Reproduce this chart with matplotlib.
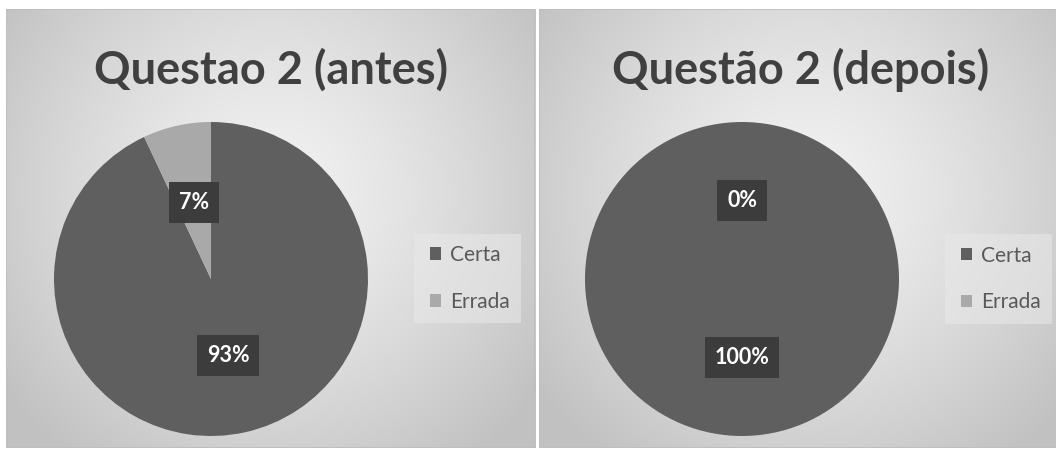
import numpy as np
import matplotlib
matplotlib.use("Agg")
import matplotlib.pyplot as plt
from matplotlib.patches import Rectangle

# ---- data ----
categories = ["Certa", "Errada"]
titles = ["Questao 2 (antes)", "Questão 2 (depois)"]
antes = [93, 7]
depois = [100, 0]
series = [antes, depois]

colors = ["#5f5f5f", "#a9a9a9"]
W, H = 1056, 458
fig = plt.figure(figsize=(W / 100, H / 100), dpi=100)
fig.patch.set_facecolor("white")

FONT = "Lato"

def px_axes(x0, y0, x1, y1, z=0):
    """axes from pixel box (top-left origin)"""
    return fig.add_axes([x0 / W, 1 - y1 / H, (x1 - x0) / W, (y1 - y0) / H], zorder=z)

def gradient(w, h, light=0.95, dark=0.76):
    yy, xx = np.mgrid[0:h, 0:w]
    cx, cy = w / 2, h * 0.42
    r = np.sqrt(((xx - cx) / (w * 0.62)) ** 2 + ((yy - cy) / (h * 0.75)) ** 2)
    v = light - (light - dark) * np.clip(r, 0, 1) ** 1.3
    return np.dstack([v, v, v])

panels = [(6, 9, 535, 448), (539, 9, 1072, 448)]
pie_centers = [(211, 279), (742, 279)]
radius = 157
legend_boxes = [(414, 234, 521, 323), (945, 234, 1052, 324)]
title_centers = [(271, 70), (801, 70)]

for i, (px0, py0, px1, py1) in enumerate(panels):
    bg = px_axes(px0, py0, px1, py1, z=0)
    bg.imshow(gradient(px1 - px0, py1 - py0), aspect="auto", extent=[0, 1, 0, 1])
    bg.set_xlim(0, 1); bg.set_ylim(0, 1)
    bg.axis("off")
    bg.add_patch(Rectangle((0, 0), 1, 1, transform=bg.transAxes, fill=False,
                           edgecolor="#bdbdbd", lw=1.2))

    tx, ty = title_centers[i]
    fig.text(tx / W, 1 - ty / H, titles[i], ha="center", va="center",
             fontsize=32.5, fontweight="bold", color="#404040", family=FONT, zorder=5)

    cx, cy = pie_centers[i]
    ax = px_axes(cx - radius, cy - radius, cx + radius, cy + radius, z=2)
    wedges, texts, autotexts = ax.pie(
        series[i], colors=colors, startangle=90, counterclock=False,
        autopct="%1.0f%%", pctdistance=0.5, radius=1,
        wedgeprops=dict(linewidth=0),
        textprops=dict(color="white", fontsize=15.5, fontweight="bold", family=FONT))
    for t in autotexts:
        t.set_bbox(dict(boxstyle="square,pad=0.45", facecolor="#3c3c3c",
                        edgecolor="none"))
    ax.set_xlim(-1, 1); ax.set_ylim(-1, 1)
    ax.set_aspect("equal")
    ax.axis("off")

    lx0, ly0, lx1, ly1 = legend_boxes[i]
    lax = px_axes(lx0, ly0, lx1, ly1, z=3)
    lax.axis("off")
    lax.add_patch(Rectangle((0, 0), 1, 1, transform=lax.transAxes,
                            facecolor="#e9e9e9", edgecolor="none", alpha=0.55))
    leg = lax.legend(wedges, categories, loc="center left", bbox_to_anchor=(-0.03, 0.5),
                     frameon=False, handlelength=0.55, handleheight=0.55,
                     handletextpad=0.45, labelspacing=1.29,
                     prop=dict(family=FONT, size=15))
    for t in leg.get_texts():
        t.set_color("#595959")

fig.savefig("out.png", dpi=100, facecolor="white")
